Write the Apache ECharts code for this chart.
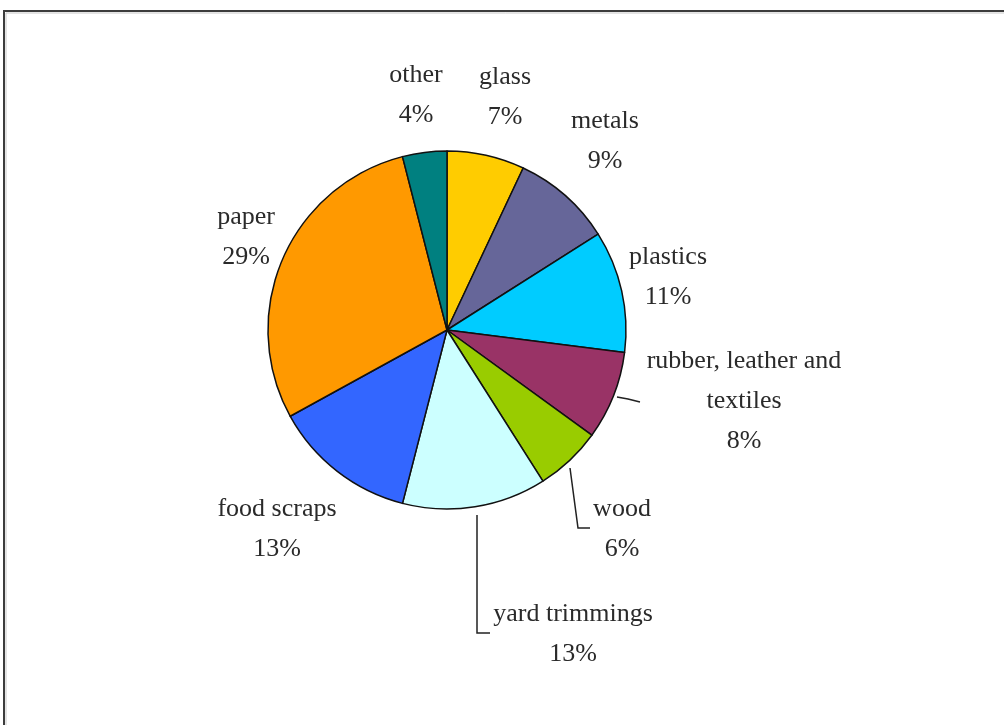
<!DOCTYPE html>
<html>
<head>
<meta charset="utf-8">
<script src="https://cdn.jsdelivr.net/npm/echarts@6/dist/echarts.min.js"></script>
<style>
  html, body { margin: 0; padding: 0; background: #ffffff; }
  #chart { width: 1004px; height: 725px; }
</style>
</head>
<body>
<div id="chart"></div>
<script>
// ---- data ----
const categories = ['glass', 'metals', 'plastics', 'rubber, leather and textiles', 'wood', 'yard trimmings', 'food scraps', 'paper', 'other'];
const values = [7, 9, 11, 8, 6, 13, 13, 29, 4];
const colors = ['#FFCC00', '#666699', '#00CCFF', '#993366', '#99CC00', '#CCFFFF', '#3366FF', '#FF9900', '#008080'];

// ---- layout (label block centres, leader lines) ----
const labelPos = {
  'glass': [505, 97],
  'metals': [605, 141],
  'plastics': [668, 277],
  'rubber, leather and textiles': [744, 401],
  'wood': [622, 529],
  'yard trimmings': [573, 634],
  'food scraps': [277, 529],
  'paper': [246, 237],
  'other': [416, 95]
};
const leaderLines = {
  'rubber, leather and textiles': [[617, 397], [628, 399], [640, 402]],
  'wood': [[570, 468], [578, 528], [590, 528]],
  'yard trimmings': [[477, 515], [477, 633], [490, 633]]
};

const chart = echarts.init(document.getElementById('chart'), null, { renderer: 'canvas' });

const data = categories.map((c, i) => ({
  name: c,
  value: values[i],
  itemStyle: { color: colors[i] },
  labelLine: { show: !!leaderLines[c] }
}));

chart.setOption({
  backgroundColor: '#ffffff',
  animation: false,
  graphic: [{
    type: 'rect',
    z: -10,
    shape: { x: 4, y: 11, width: 1100, height: 800 },
    style: { fill: 'none', stroke: '#3c3c3c', lineWidth: 2 }
  }, {
    type: 'rect',
    z: -10,
    shape: { x: 6, y: 13, width: 1100, height: 800 },
    style: { fill: 'none', stroke: '#c8c8c8', lineWidth: 1 }
  }],
  series: [{
    type: 'pie',
    center: [447, 330],
    radius: [0, 179],
    startAngle: 90,
    clockwise: true,
    avoidLabelOverlap: false,
    data: data,
    itemStyle: { borderColor: '#111111', borderWidth: 1.5 },
    emphasis: { disabled: true },
    label: {
      show: true,
      position: 'outside',
      fontFamily: 'Liberation Serif',
      fontSize: 26,
      lineHeight: 40,
      color: '#2a2a2a',
      align: 'center',
      formatter: function (p) {
        return p.name.replace(' textiles', '\ntextiles') + '\n' + p.value + '%';
      }
    },
    labelLine: {
      show: true,
      lineStyle: { color: '#222222', width: 1.5 }
    },
    labelLayout: function (params) {
      const name = categories[params.dataIndex];
      const pos = labelPos[name];
      const out = { x: pos[0], y: pos[1], align: 'center', verticalAlign: 'middle', hideOverlap: false, moveOverlap: null };
      if (leaderLines[name]) out.labelLinePoints = leaderLines[name];
      return out;
    }
  }]
});
</script>
</body>
</html>
